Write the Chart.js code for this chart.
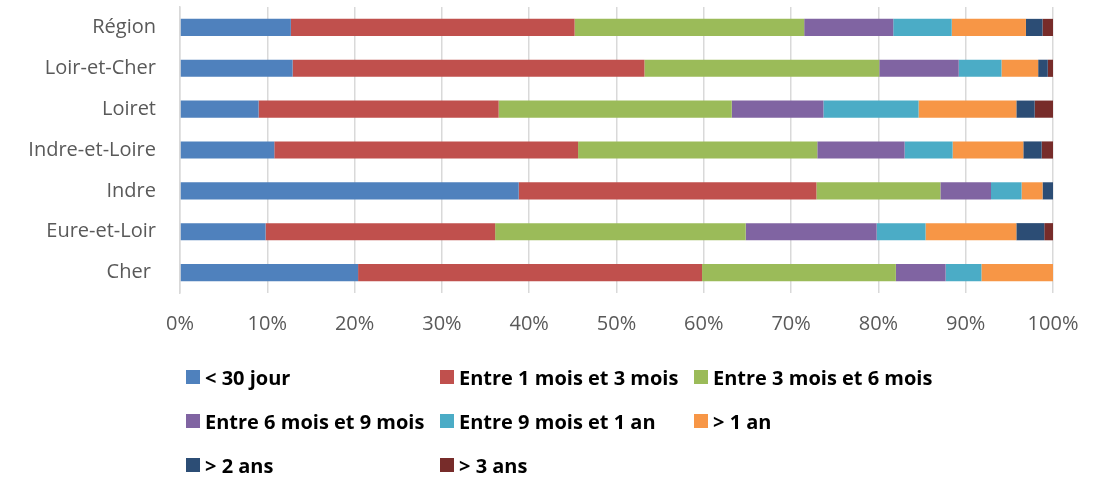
<!DOCTYPE html>
<html lang="fr">
<head>
<meta charset="utf-8">
<script src="https://cdn.jsdelivr.net/npm/chart.js@4.4.1/dist/chart.umd.min.js"></script>
<style>
  html, body { margin: 0; padding: 0; background: #fff; }
  #wrap { position: relative; width: 1107px; height: 478px; }
  #legend {
    position: absolute; left: 186px; top: 355px;
    display: grid; grid-template-columns: 254px 254px 254px;
    grid-auto-rows: 44px;
    font-family: "Open Sans", sans-serif; font-weight: bold; font-size: 20px; color: #000;
  }
  #legend .item { display: flex; align-items: center; white-space: nowrap; }
  #legend .box { width: 14px; height: 14px; margin-right: 5px; flex: none; }
</style>
</head>
<body>
<div id="wrap">
  <canvas id="delaiChart" width="1107" height="478"></canvas>
  <div id="legend"></div>
</div>
<script>
const categories = ['Région', 'Loir-et-Cher', 'Loiret', 'Indre-et-Loire', 'Indre', 'Eure-et-Loir', 'Cher '];
const seriesNames = ['< 30 jour', 'Entre 1 mois et 3 mois', 'Entre 3 mois et 6 mois',
  'Entre 6 mois et 9 mois', 'Entre 9 mois et 1 an', '> 1 an', '> 2 ans', '> 3 ans'];

// part (%) de chaque tranche de délai, même ordre que categories
const moins30j   = [12.7, 12.9,  9.0, 10.8, 38.8,  9.8, 20.4];
const m1a3       = [32.5, 40.3, 27.5, 34.8, 34.1, 26.3, 39.4];
const m3a6       = [26.3, 26.9, 26.7, 27.4, 14.2, 28.7, 22.2];
const m6a9       = [10.2,  9.1, 10.5, 10.0,  5.8, 15.0,  5.7];
const m9a12      = [ 6.7,  4.9, 10.9,  5.5,  3.5,  5.6,  4.1];
const plus1an    = [ 8.5,  4.2, 11.2,  8.1,  2.4, 10.4,  8.2];
const plus2ans   = [ 1.9,  1.1,  2.1,  2.1,  1.2,  3.2,  0.0];
const plus3ans   = [ 1.2,  0.6,  2.1,  1.3,  0.0,  1.0,  0.0];

const xTicks = [0, 10, 20, 30, 40, 50, 60, 70, 80, 90, 100];

const colors = ['#4F81BD', '#C0504D', '#9BBB59', '#8064A2', '#4BACC6', '#F79646', '#2C4D75', '#772C2A'];
const values = [moins30j, m1a3, m3a6, m6a9, m9a12, plus1an, plus2ans, plus3ans];

const datasets = seriesNames.map((name, i) => ({
  label: name,
  data: values[i],
  backgroundColor: colors[i],
  borderWidth: 0,
  barPercentage: 0.42,
  categoryPercentage: 1
}));

const ctx = document.getElementById('delaiChart').getContext('2d');
const chart = new Chart(ctx, {
  type: 'bar',
  data: { labels: categories, datasets: datasets },
  options: {
    indexAxis: 'y',
    responsive: false,
    animation: false,
    layout: { padding: { top: 7, right: 54, bottom: 133, left: 0 } },
    plugins: { legend: { display: false }, tooltip: { enabled: false } },
    scales: {
      x: {
        stacked: true,
        min: 0,
        max: 100,
        afterFit: (scale) => { scale.height = 52; },
        afterBuildTicks: (scale) => { scale.ticks = xTicks.map(v => ({ value: v })); },
        grid: { color: '#d9d9d9', lineWidth: 1.5, drawTicks: false },
        border: { display: false },
        ticks: {
          padding: 19,
          color: '#595959',
          font: { family: 'Open Sans', size: 20 },
          callback: (v) => v + '%'
        }
      },
      y: {
        stacked: true,
        afterFit: (scale) => {
          scale.width = 180;
          // pas de marge haute/basse liée au padding des libellés
          scale.paddingTop = 0;
          scale.paddingBottom = 0;
        },
        grid: { display: false, drawTicks: false },
        border: { display: true, color: '#d9d9d9', width: 1.5 },
        ticks: {
          padding: 24,
          color: '#595959',
          font: { family: 'Open Sans', size: 20 }
        }
      }
    }
  }
});

// légende en grille de 3 colonnes comme dans le tableur
const legendEl = document.getElementById('legend');
chart.data.datasets.forEach(ds => {
  const item = document.createElement('div');
  item.className = 'item';
  const box = document.createElement('span');
  box.className = 'box';
  box.style.background = ds.backgroundColor;
  const txt = document.createElement('span');
  txt.textContent = ds.label;
  item.appendChild(box);
  item.appendChild(txt);
  legendEl.appendChild(item);
});
</script>
</body>
</html>
